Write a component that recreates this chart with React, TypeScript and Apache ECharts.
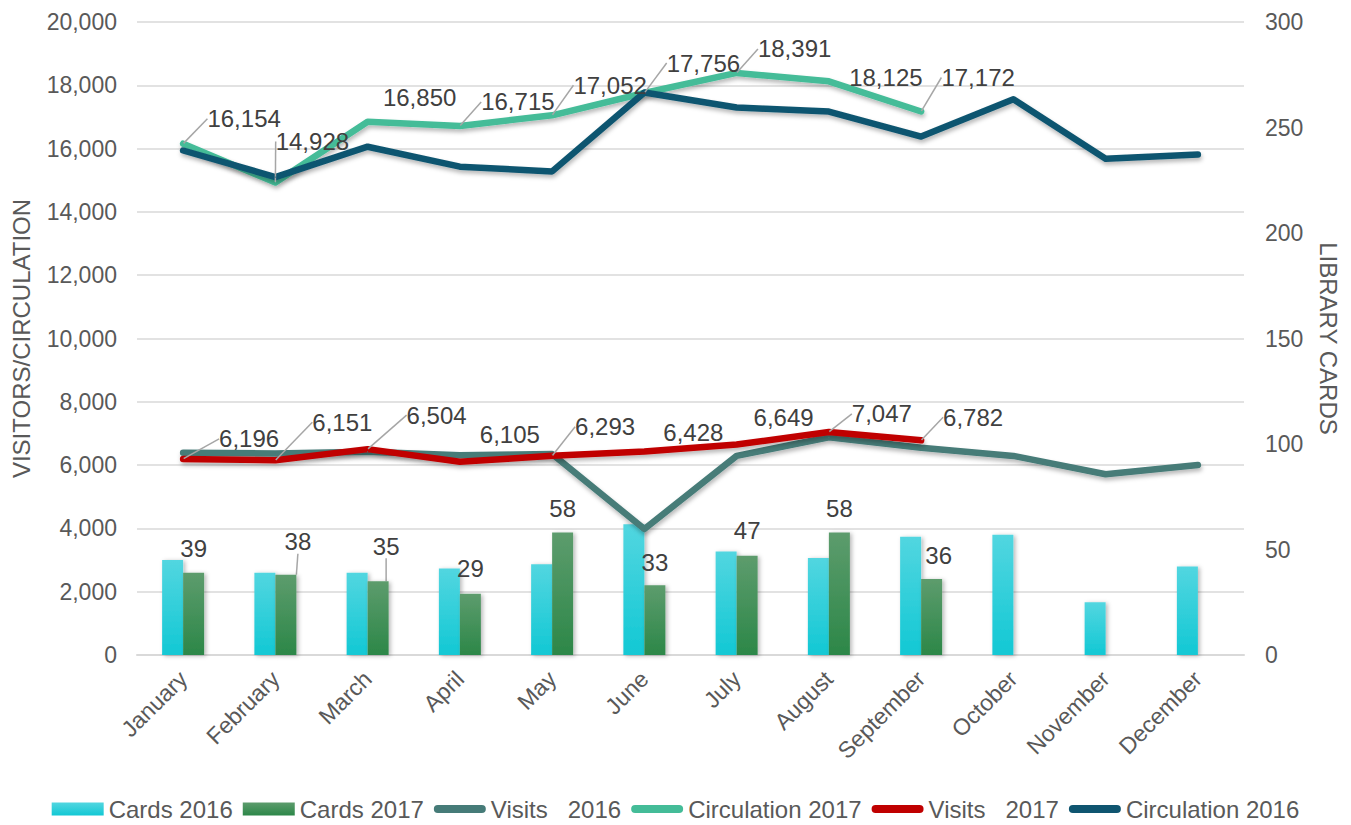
import React, { useEffect, useRef } from "react";
import * as echarts from "echarts";

const months = ["January", "February", "March", "April", "May", "June", "July", "August", "September", "October", "November", "December"];
const cards2016 = [45, 39, 39, 41, 43, 62, 49, 46, 56, 57, 25, 42];
const cards2017 = [39, 38, 35, 29, 58, 33, 47, 58, 36, null, null, null];
const visits2016 = [6390, 6370, 6420, 6310, 6350, 3980, 6290, 6880, 6550, 6290, 5710, 6000];
const circulation2017 = [16154, 14928, 16850, 16715, 17052, 17756, 18391, 18125, 17172, null, null, null];
const visits2017 = [6196, 6151, 6504, 6105, 6293, 6428, 6649, 7047, 6782, null, null, null];
const circulation2016 = [15940, 15100, 16060, 15430, 15280, 17770, 17300, 17170, 16380, 17560, 15680, 15810];

const leftTicks = { min: 0, max: 20000, interval: 2000 };
const rightTicks = { min: 0, max: 300, interval: 50 };

// label placement (layout only)
const circ17Offsets = [[61, -25], [37, -41], [52, -24], [58, -24], [58, -30], [59, -30], [58, -24], [57, -4], [57, -34]];
const circ17Leaders = [true, true, false, true, true, true, true, false, true];
const vis17Offsets = [[66, -20], [67, -38], [69, -34], [50, -27], [53, -29], [49, -19], [47, -27], [53, -18], [52, -23]];
const vis17Leaders = [true, true, true, false, true, false, false, true, true];
const cards17Offsets = [[0, -24], [12, -33], [8, -35], [0, -25], [0, -24], [0, -23], [0, -25], [0, -24], [7, -24]];
const cards17Leaders = [false, true, true, false, false, false, false, false, false];

const FONT = "'Liberation Sans', Arial, sans-serif";
const fmt = (v: number) => v.toLocaleString("en-US");
const linePath = "path://M4,0 L48,0 A4,4 0 0 1 48,8 L4,8 A4,4 0 0 1 4,0 Z";

const shadow = { shadowColor: "rgba(0,0,0,0.28)", shadowBlur: 4, shadowOffsetX: 1, shadowOffsetY: 3 };

function pointLayout(offsets: number[][]) {
  return (params: any) => {
    const o = offsets[params.dataIndex];
    if (!o || !params.rect) return {};
    const r = params.rect;
    return { x: r.x + r.width / 2 + o[0], y: r.y + r.height / 2 + o[1], align: "center", verticalAlign: "middle" };
  };
}
function barLayout(offsets: number[][]) {
  return (params: any) => {
    const o = offsets[params.dataIndex];
    if (!o || !params.rect) return {};
    const r = params.rect;
    return { x: r.x + r.width / 2 + o[0], y: r.y + o[1], align: "center", verticalAlign: "middle" };
  };
}

const leaderStyle = { color: "#a6a6a6", width: 1.5 };
const dataLabel = { show: true, position: "inside", fontSize: 24, color: "#404040", fontFamily: FONT, formatter: (p: any) => fmt(p.value) };

function lineSeries(name: string, data: (number | null)[], color: string, withLabels: boolean, offsets?: number[][], leaders?: boolean[]) {
  return {
    name,
    type: "line",
    yAxisIndex: 0,
    data: data.map((v, i) => ({
      value: v,
      labelLine: { show: withLabels && leaders ? !!leaders[i] : false, lineStyle: leaderStyle, smooth: false },
    })),
    symbol: "circle",
    symbolSize: 1,
    showSymbol: true,
    itemStyle: { color },
    lineStyle: { color, width: 6.5, cap: "round", join: "round", ...shadow },
    label: withLabels ? dataLabel : { show: false },
    labelLayout: withLabels && offsets ? pointLayout(offsets) : undefined,
    emphasis: { disabled: true },
    silent: true,
  };
}

export default function App() {
  const ref = useRef<HTMLDivElement>(null);
  useEffect(() => {
    if (!ref.current) return;
    const chart = echarts.init(ref.current, null, { renderer: "svg" });
    const cyan = new echarts.graphic.LinearGradient(0, 0, 0, 1, [
      { offset: 0, color: "#52d6e0" },
      { offset: 1, color: "#12c8d4" },
    ]);
    const green = new echarts.graphic.LinearGradient(0, 0, 0, 1, [
      { offset: 0, color: "#5d9c6d" },
      { offset: 1, color: "#2c8748" },
    ]);
    const axisText = { fontSize: 23, color: "#595959", fontFamily: FONT };
    chart.setOption({
      animation: false,
      backgroundColor: "#ffffff",
      textStyle: { fontFamily: FONT },
      grid: { left: 137, right: 107, top: 22, bottom: 170, containLabel: false },
      legend: {
        top: 793,
        left: "center",
        padding: 2,
        itemWidth: 52,
        itemHeight: 13,
        itemGap: 10,
        textStyle: { fontSize: 24, lineHeight: 28, color: "#595959", fontFamily: FONT },
        data: [
          { name: "Cards 2016", icon: "rect" },
          { name: "Cards 2017", icon: "rect" },
          { name: "Visits   2016", icon: linePath },
          { name: "Circulation 2017", icon: linePath },
          { name: "Visits   2017", icon: linePath },
          { name: "Circulation 2016", icon: linePath },
        ],
        selectedMode: false,
      },
      xAxis: {
        type: "category",
        data: months,
        axisLine: { lineStyle: { color: "#d9d9d9", width: 2 } },
        axisTick: { show: false },
        axisLabel: { ...axisText, rotate: 45, margin: 20, interval: 0 },
      },
      yAxis: [
        {
          type: "value",
          ...leftTicks,
          name: "VISITORS/CIRCULATION",
          nameLocation: "middle",
          nameRotate: 90,
          nameGap: 104,
          nameTextStyle: { fontSize: 24, color: "#595959", fontFamily: FONT },
          axisLine: { show: false },
          axisTick: { show: false },
          axisLabel: { ...axisText, margin: 20, formatter: (v: number) => fmt(v) },
          splitLine: { lineStyle: { color: "#d9d9d9", width: 1.5 } },
        },
        {
          type: "value",
          ...rightTicks,
          name: "LIBRARY CARDS",
          nameLocation: "middle",
          nameRotate: -90,
          nameGap: 72,
          nameTextStyle: { fontSize: 24, color: "#595959", fontFamily: FONT },
          axisLine: { show: false },
          axisTick: { show: false },
          axisLabel: { ...axisText, margin: 21 },
          splitLine: { show: false },
        },
      ],
      series: [
        {
          name: "Cards 2016",
          type: "bar",
          yAxisIndex: 1,
          data: cards2016,
          barWidth: 21,
          barGap: "0%",
          itemStyle: { color: cyan, ...shadow, shadowOffsetY: 1, shadowOffsetX: 2 },
          emphasis: { disabled: true },
          silent: true,
        },
        {
          name: "Cards 2017",
          type: "bar",
          yAxisIndex: 1,
          data: cards2017.map((v, i) => ({ value: v, labelLine: { show: cards17Leaders[i], lineStyle: leaderStyle } })),
          barWidth: 21,
          barGap: "0%",
          itemStyle: { color: green, ...shadow, shadowOffsetY: 1, shadowOffsetX: 2 },
          label: { ...dataLabel, position: "top" },
          labelLayout: barLayout(cards17Offsets),
          emphasis: { disabled: true },
          silent: true,
        },
        lineSeries("Visits   2016", visits2016, "#467b78", false),
        lineSeries("Circulation 2017", circulation2017, "#44bc98", true, circ17Offsets, circ17Leaders),
        lineSeries("Visits   2017", visits2017, "#c00000", true, vis17Offsets, vis17Leaders),
        lineSeries("Circulation 2016", circulation2016, "#0f5570", false),
      ],
    });
    return () => chart.dispose();
  }, []);
  return <div ref={ref} style={{ position: "fixed", left: 0, top: 0, width: 1351, height: 825, background: "#fff" }} />;
}
